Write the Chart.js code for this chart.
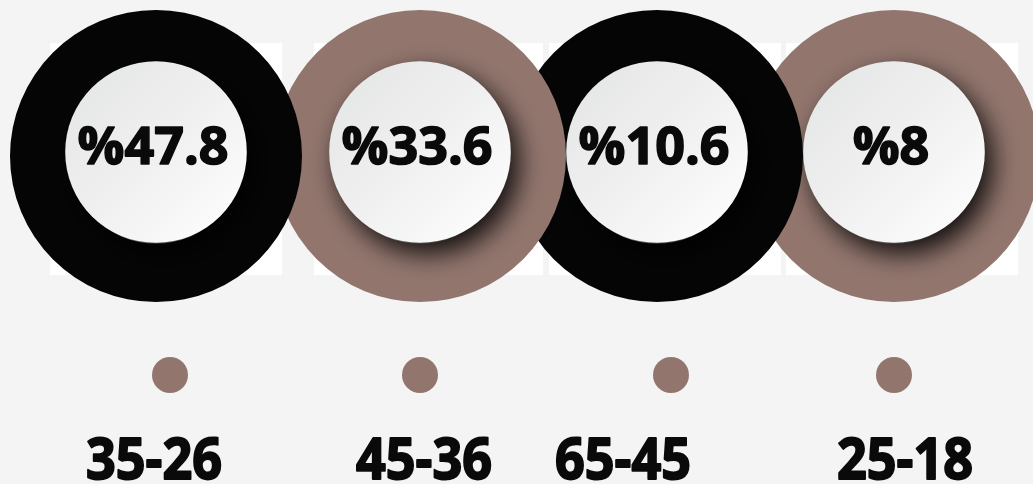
<!DOCTYPE html>
<html>
<head>
<meta charset="utf-8">
<script src="https://cdn.jsdelivr.net/npm/chart.js@4/dist/chart.umd.min.js"></script>
<style>
  html, body { margin:0; padding:0; background:#f4f4f4; }
  #wrap { position:relative; width:1033px; height:484px; overflow:hidden; background:#f4f4f4; }
  .card { position:absolute; top:43px; height:232px; background:#ffffff; }
  canvas { position:absolute; top:0; }
</style>
</head>
<body>
<div id="wrap">
  <div class="card" style="left:50px;width:232px"></div>
  <div class="card" style="left:314px;width:229px"></div>
  <div class="card" style="left:549px;width:232px"></div>
  <div class="card" style="left:786px;width:232px"></div>
</div>
<script>
// ---- data ----
const categories = ['35-26', '45-36', '65-45', '25-18'];
const values = [47.8, 33.6, 10.6, 8];
const valuePrefix = '%';

// ---- layout / style ----
const ringCentersX = [156, 420, 657, 894];
const ringColors = ['#050505', '#92766e', '#050505', '#92766e'];
const dotOffsets = [14, 0, 14, 0];
const labelOffsets = [-2, 4, -34, 11];
const canvasW = 300, canvasH = 484;

const wrap = document.getElementById('wrap');

const ringPlugin = {
  id: 'ringDecor',
  afterDatasetsDraw(chart) {
    const i = chart.options.plugins.ringDecor.index;
    const arc = chart.getDatasetMeta(0).data[0];
    const ctx = chart.ctx;
    const cx = arc.x, cy = arc.y - 4;
    const r = arc.outerRadius * 0.622;
    // inner white disc with shadow
    ctx.save();
    ctx.shadowColor = 'rgba(0,0,0,0.88)';
    ctx.shadowBlur = 26;
    ctx.shadowOffsetX = 8;
    ctx.shadowOffsetY = 11;
    const g = ctx.createLinearGradient(cx - r, cy - r, cx + r, cy + r);
    g.addColorStop(0, '#e3e4e4');
    g.addColorStop(0.5, '#f0f0f0');
    g.addColorStop(1, '#ffffff');
    ctx.fillStyle = g;
    ctx.beginPath();
    ctx.arc(cx, cy, r, 0, Math.PI * 2);
    ctx.fill();
    ctx.restore();
    // value text
    ctx.save();
    ctx.fillStyle = '#0a0a0a';
    ctx.strokeStyle = '#0a0a0a';
    ctx.lineWidth = 1.6;
    ctx.lineJoin = 'round';
    ctx.font = 'bold 52px "Open Sans", "Liberation Sans", sans-serif';
    ctx.textAlign = 'center';
    ctx.textBaseline = 'middle';
    const vt = valuePrefix + chart.data.datasets[0].data[0];
    ctx.fillText(vt, cx - 3, cy - 3);
    ctx.strokeText(vt, cx - 3, cy - 3);
    ctx.restore();
    // dot
    ctx.save();
    ctx.fillStyle = '#92766e';
    ctx.beginPath();
    ctx.arc(arc.x + dotOffsets[i], 375, 18, 0, Math.PI * 2);
    ctx.fill();
    ctx.restore();
    // category label (compressed bold)
    ctx.save();
    ctx.fillStyle = '#0a0a0a';
    ctx.strokeStyle = '#0a0a0a';
    ctx.lineWidth = 2;
    ctx.lineJoin = 'round';
    ctx.font = 'bold 58px "Open Sans", "Liberation Sans", sans-serif';
    ctx.textAlign = 'center';
    ctx.textBaseline = 'alphabetic';
    const txt = chart.data.labels[0];
    const w = ctx.measureText(txt).width;
    const sx = Math.min(1, 136 / w);
    ctx.translate(arc.x + labelOffsets[i], 479);
    ctx.scale(sx, 1);
    ctx.fillText(txt, 0, 0);
    ctx.strokeText(txt, 0, 0);
    ctx.restore();
  }
};

for (let i = 0; i < categories.length; i++) {
  const c = document.createElement('canvas');
  c.width = canvasW; c.height = canvasH;
  c.style.left = (ringCentersX[i] - canvasW / 2) + 'px';
  c.style.width = canvasW + 'px';
  c.style.height = canvasH + 'px';
  c.style.zIndex = String(10 - i);
  wrap.appendChild(c);
  new Chart(c, {
    type: 'doughnut',
    data: {
      labels: [categories[i]],
      datasets: [{
        data: [values[i]],
        backgroundColor: [ringColors[i]],
        borderWidth: 0,
        hoverOffset: 0
      }]
    },
    options: {
      responsive: false,
      animation: false,
      events: [],
      cutout: '60%',
      layout: { padding: { left: 4, right: 4, top: 10, bottom: 182 } },
      plugins: {
        legend: { display: false },
        tooltip: { enabled: false },
        ringDecor: { index: i }
      }
    },
    plugins: [ringPlugin]
  });
}
</script>
</body>
</html>
